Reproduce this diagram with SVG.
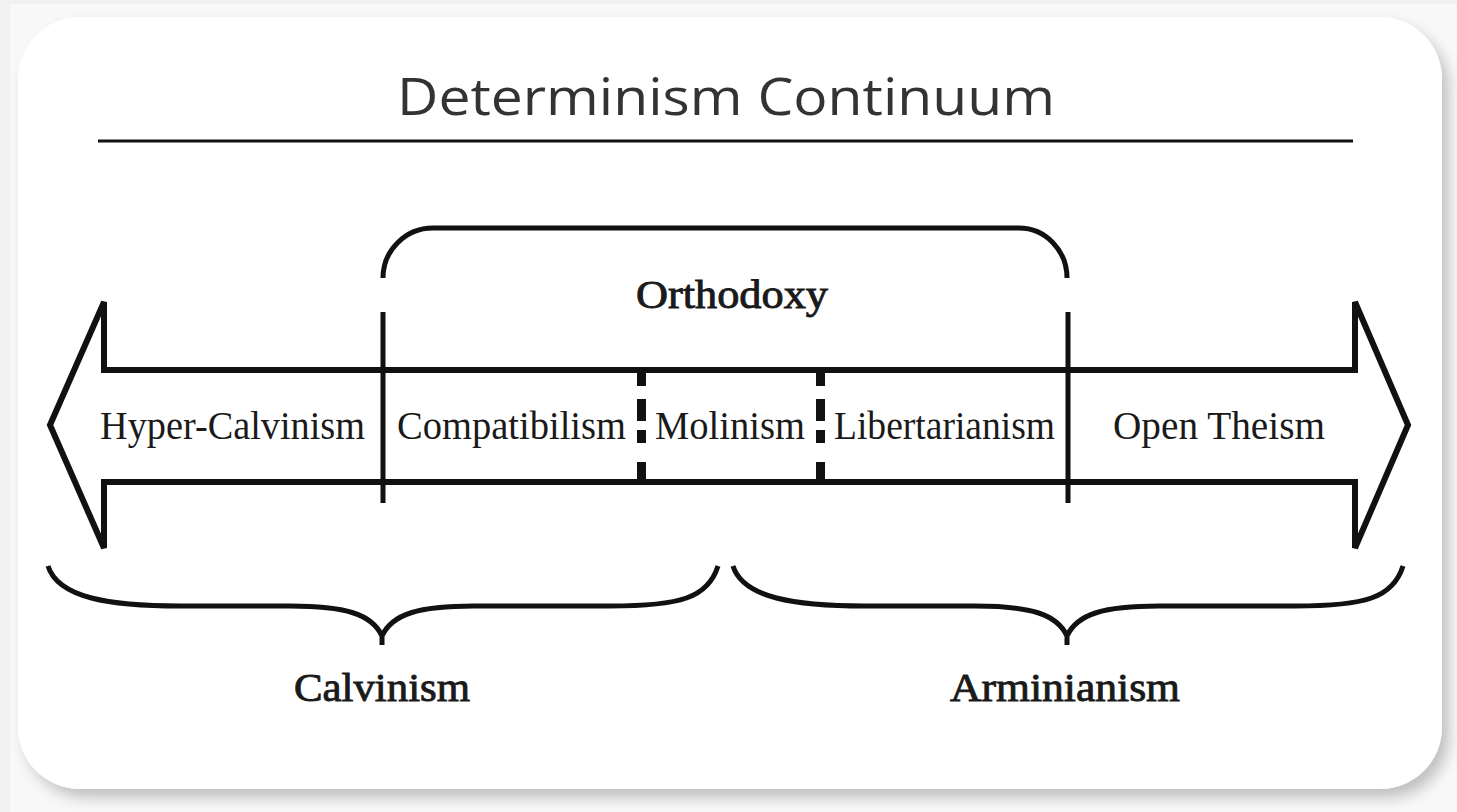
<svg xmlns="http://www.w3.org/2000/svg" width="1457" height="812" viewBox="0 0 1457 812">
  <defs>
    <filter id="shadow" x="-5%" y="-5%" width="112%" height="115%">
      <feDropShadow dx="7" dy="9" stdDeviation="7" flood-color="#000" flood-opacity="0.22"/>
    </filter>
    <style>
      .ln { fill: none; stroke: #111; stroke-width: 5; }
      .lbl { font-family: "Liberation Serif", "DejaVu Serif", serif; font-size: 40px; fill: #1a1a1a; text-anchor: start; }
      .semi { stroke: #1a1a1a; stroke-width: 0.9; }
      .title { font-family: "Open Sans", "Liberation Sans", sans-serif; font-size: 52px; fill: #333; }
      .dash { fill: #111; }
    </style>
  </defs>

  <!-- background & card -->
  <rect x="0" y="0" width="1457" height="812" fill="#f1f1f1"/>
  <rect x="10" y="4" width="1447" height="808" fill="#f8f8f8"/>
  <rect x="18" y="17" width="1424" height="772" rx="62" ry="62" fill="#ffffff" filter="url(#shadow)"/>

  <!-- title -->
  <g id="title">
    <text class="title" x="397" y="115" textLength="658" lengthAdjust="spacingAndGlyphs">Determinism Continuum</text>
    <line x1="98" y1="141" x2="1353" y2="141" stroke="#111" stroke-width="3"/>
  </g>

  <!-- main double arrow -->
  <g id="arrow">
    <path d="M 50 425 L 104 302 L 104 370 L 1355 370 L 1355 302 L 1408 425 L 1355 548 L 1355 482 L 104 482 L 104 548 Z" fill="#fff" stroke="#111" stroke-width="6" stroke-linejoin="miter"/>
  </g>

  <!-- dividers & brackets -->
  <g id="connectors">
    <line class="ln" x1="383" y1="312" x2="383" y2="503"/>
    <line class="ln" x1="1068" y1="312" x2="1068" y2="503"/>
    <!-- dashed dividers -->
    <g class="dash">
      <rect x="637" y="368" width="9" height="18"/>
      <rect x="637" y="399" width="9" height="22"/>
      <rect x="637" y="430" width="9" height="13"/>
      <rect x="637" y="462" width="9" height="20"/>
      <rect x="816" y="368" width="9" height="18"/>
      <rect x="816" y="399" width="9" height="22"/>
      <rect x="816" y="430" width="9" height="13"/>
      <rect x="816" y="462" width="9" height="20"/>
    </g>
    <!-- orthodoxy bracket -->
    <path class="ln" d="M 383 278 A 50 50 0 0 1 433 228 L 1019 228 A 48 50 0 0 1 1067 278"/>
    <!-- calvinism brace -->
    <path class="ln" d="M 48 566 C 58 598, 110 606, 180 606 L 290 606 C 345 606, 372 614, 382 636 L 382 645 M 382 636 C 392 614, 419 606, 474 606 L 610 606 C 680 606, 708 598, 718 566"/>
    <!-- arminianism brace -->
    <path class="ln" d="M 733 566 C 743 598, 795 606, 865 606 L 975 606 C 1030 606, 1057 614, 1067 636 L 1067 645 M 1067 636 C 1077 614, 1104 606, 1159 606 L 1295 606 C 1365 606, 1393 598, 1403 566"/>
  </g>

  <!-- labels -->
  <g id="hyper-calvinism"><text class="lbl" x="100" y="439" textLength="265" lengthAdjust="spacingAndGlyphs">Hyper-Calvinism</text></g>
  <g id="compatibilism"><text class="lbl" x="397" y="439" textLength="229" lengthAdjust="spacingAndGlyphs">Compatibilism</text></g>
  <g id="molinism"><text class="lbl" x="655" y="439" textLength="150" lengthAdjust="spacingAndGlyphs">Molinism</text></g>
  <g id="libertarianism"><text class="lbl" x="834" y="439" textLength="221" lengthAdjust="spacingAndGlyphs">Libertarianism</text></g>
  <g id="open-theism"><text class="lbl" x="1113" y="439" textLength="212" lengthAdjust="spacingAndGlyphs">Open Theism</text></g>
  <g id="orthodoxy"><text class="lbl semi" x="636" y="308" textLength="192" lengthAdjust="spacingAndGlyphs">Orthodoxy</text></g>
  <g id="calvinism"><text class="lbl semi" x="294" y="701" textLength="176" lengthAdjust="spacingAndGlyphs">Calvinism</text></g>
  <g id="arminianism"><text class="lbl semi" x="950" y="701" textLength="230" lengthAdjust="spacingAndGlyphs">Arminianism</text></g>
</svg>
